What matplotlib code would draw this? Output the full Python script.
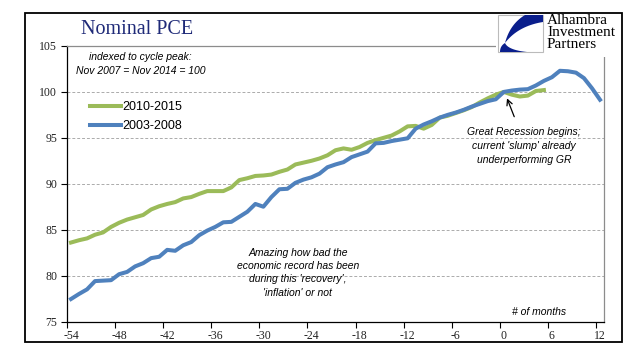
import numpy as np
import matplotlib
matplotlib.use("Agg")
import matplotlib.pyplot as plt
from matplotlib.patches import Rectangle, Polygon

# months relative to cycle peak (0 = Nov 2007 / Nov 2014)
months_0308 = list(range(-54, 13))
months_1015 = list(range(-54, 6))

pce_2003_2008 = [
    77.45, 78.0, 78.5, 79.4, 79.45, 79.5, 80.15, 80.4, 81.0, 81.35,
    81.9, 82.05, 82.8, 82.7, 83.3, 83.65, 84.4, 84.9, 85.3, 85.8,
    85.85, 86.4, 86.95, 87.8, 87.5, 88.55, 89.4, 89.45, 90.1, 90.45,
    90.7, 91.1, 91.8, 92.1, 92.35, 92.9, 93.2, 93.5, 94.4, 94.45,
    94.65, 94.8, 94.95, 96.0, 96.45, 96.8, 97.2, 97.5, 97.75, 98.05,
    98.4, 98.7, 99.0, 99.2, 100.0, 100.15, 100.25, 100.3, 100.7, 101.2,
    101.6, 102.3, 102.25, 102.1, 101.5, 100.4, 99.15,
]
pce_2010_2015 = [
    83.6, 83.85, 84.05, 84.45, 84.7, 85.3, 85.75, 86.1, 86.35, 86.6,
    87.2, 87.55, 87.8, 88.0, 88.4, 88.55, 88.9, 89.2, 89.2, 89.2,
    89.6, 90.4, 90.6, 90.85, 90.9, 91.0, 91.3, 91.55, 92.1, 92.3,
    92.5, 92.75, 93.1, 93.65, 93.85, 93.7, 94.0, 94.45, 94.75, 95.0,
    95.25, 95.7, 96.25, 96.3, 96.0, 96.4, 97.2, 97.4, 97.7, 98.0,
    98.35, 98.85, 99.3, 99.7, 100.0, 99.7, 99.5, 99.6, 100.1, 100.2,
]

x_labels = list(range(-54, 13, 6))
y_ticks = list(range(75, 106, 5))

GREEN = "#9BBB59"
BLUE = "#4F81BD"
NAVY = "#1F2A78"

fig = plt.figure(figsize=(6.41, 3.58), dpi=100)
W, H = 641, 358


def fx(px):
    return px / W


def fy(py):
    return 1 - py / H


# outer frame
fig.patches.append(Rectangle((fx(25), fy(342)), fx(622) - fx(25), fy(13) - fy(342),
                             transform=fig.transFigure, fill=False, ec="black", lw=1.3))

ax = fig.add_axes([fx(67), fy(321.5), fx(604) - fx(67), fy(46) - fy(321.5)])
ax.plot(months_1015, pce_2010_2015, color=GREEN, lw=2.9, label="2010-2015",
        solid_joinstyle="round", zorder=3)
ax.plot(months_0308, pce_2003_2008, color=BLUE, lw=2.9, label="2003-2008",
        solid_joinstyle="round", zorder=4)

ax.set_xlim(-54.5, 12.5)
ax.set_ylim(75, 105)

# category axis: ticks between categories, labels on them
ax.set_xticks(np.arange(-54.5, 12, 6))
ax.set_xticklabels([])
ax.set_xticks(x_labels, minor=True)
ax.set_xticklabels([str(v) for v in x_labels], minor=True)
ax.tick_params(axis="x", which="major", direction="out", length=4, width=0.8)
ax.tick_params(axis="x", which="minor", length=0, pad=6, labelsize=8.5)
ax.set_yticks(y_ticks)
ax.tick_params(axis="y", direction="out", length=4, width=0.8, labelsize=8.5, pad=3)
for lab in ax.get_xticklabels(minor=True) + ax.get_yticklabels():
    lab.set_fontfamily("Liberation Serif")
    lab.set_color("#222222")

for y in y_ticks[1:-1]:
    ax.axhline(y, color="#ABABAB", lw=0.7, ls=(0, (3, 2)), zorder=1)

ax.spines["left"].set_color("black")
ax.spines["bottom"].set_color("black")
ax.spines["top"].set_color("#8C8C8C")
ax.spines["right"].set_color("#8C8C8C")
for s in ax.spines.values():
    s.set_linewidth(0.9)

leg = ax.legend(loc="upper left", bbox_to_anchor=(0.043, 0.80), frameon=False,
                borderpad=0, borderaxespad=0, handlelength=2.5, handletextpad=0.1,
                labelspacing=0.55, prop={"family": "Liberation Sans", "size": 9})

ital = {"family": ["Liberation Sans", "DejaVu Sans"], "style": "italic", "size": 7.5}
ax.text(-45.3, 103.05, "indexed to cycle peak:\nNov 2007 = Nov 2014 = 100",
        ha="center", va="center", linespacing=1.45, **ital)
ax.text(2.5, 94.1, "Great Recession begins;\ncurrent 'slump' already\nunderperforming GR",
        ha="center", va="center", linespacing=1.5, **ital)
ax.text(-25.7, 80.3, "Amazing how bad the\neconomic record has been\nduring this 'recovery',\n'inflation' or not",
        ha="center", va="center", linespacing=1.4, **ital)
ax.text(4.4, 76.0, "# of months", ha="center", va="center", **ital)
ax.annotate("", xy=(0.4, 99.3), xytext=(1.3, 97.3),
            arrowprops=dict(arrowstyle="->", lw=0.9, color="black",
                            shrinkA=0, shrinkB=0))

fig.text(fx(81), fy(30), "Nominal PCE", family="Liberation Serif", size=14.5,
         color=NAVY, va="center", ha="left")

# logo
lax = fig.add_axes([fx(496), fy(57), fx(621) - fx(496), fy(14) - fy(57)])
lax.set_xlim(496, 621)
lax.set_ylim(57, 14)
lax.axis("off")
lax.add_patch(Rectangle((496, 14), 125, 43, fc="white", ec="none", zorder=0))
lax.add_patch(Rectangle((498, 15), 45, 37, fc="white", ec="#BBBBBB", lw=0.8, zorder=1))


def bez(p0, p1, p2, n=20):
    t = np.linspace(0, 1, n)[:, None]
    p0, p1, p2 = map(np.asarray, (p0, p1, p2))
    return (1 - t) ** 2 * p0 + 2 * (1 - t) * t * p1 + t ** 2 * p2


upper = np.vstack([[[525, 15], [543, 15], [543, 22]],
                   bez((543, 22), (518, 26), (505, 43)),
                   bez((505, 43), (510, 24), (525, 15))])
lower = np.vstack([bez((505, 43), (508, 50), (527, 52)),
                   [[500, 52]],
                   bez((500, 52), (500, 46), (505, 43))])
lax.add_patch(Polygon(upper, closed=True, fc="#0A1E8C", ec="none", zorder=2))
lax.add_patch(Polygon(lower, closed=True, fc="#0A1E8C", ec="none", zorder=2))
for i, word in enumerate(["Alhambra", "Investment", "Partners"]):
    lax.text(547, 21 + 12 * i, word, family="Liberation Serif", size=11,
             color="black", va="center", ha="left", zorder=3)

fig.savefig("out.png", dpi=100)
